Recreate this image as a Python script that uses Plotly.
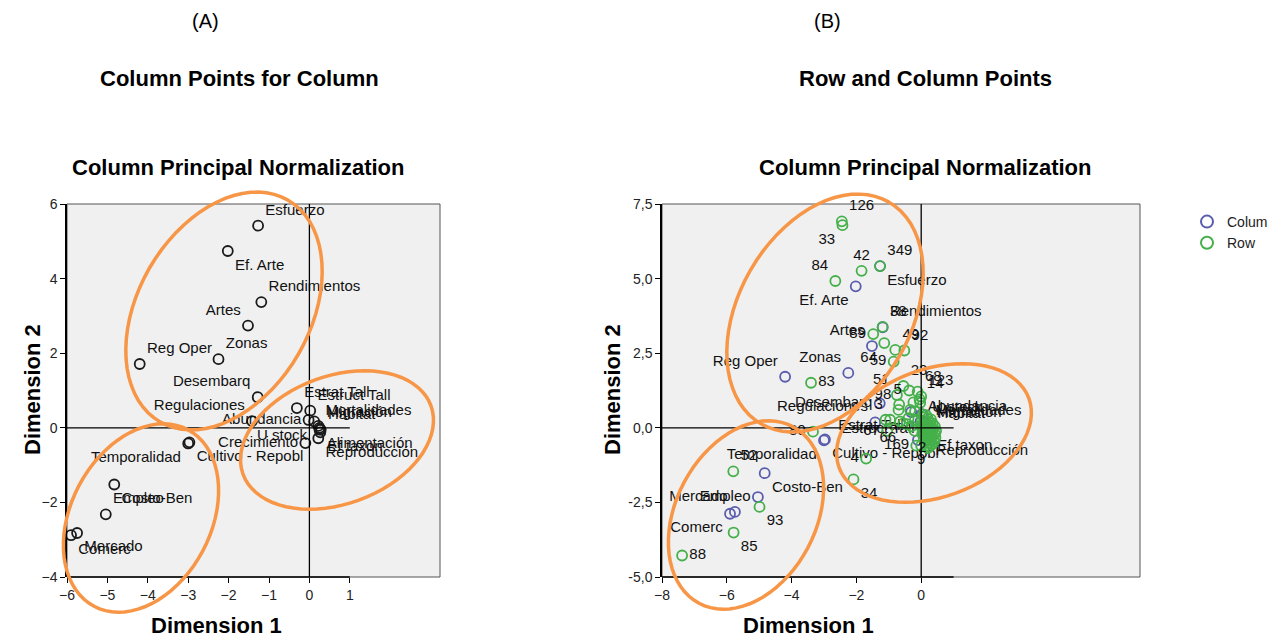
import math
import plotly.graph_objects as go

W, H = 1285, 638
OFF = 8  # the page body margin shifts the figure by this many pixels

# ---------------- data ----------------
col_names = ["Esfuerzo", "Ef. Arte", "Rendimientos", "Artes", "Zonas", "Reg Oper",
             "Desembarq", "Regulaciones", "Estrat Tall", "Estruct Tall", "Abundancia",
             "U stock", "Mortalidades", "Migración", "Habitat", "Alimentación",
             "Ef taxon", "Reproducción", "Crecimiento", "Temporalidad",
             "Cultivo - Repobl", "Costo-Ben", "Empleo", "Mercado", "Comerc"]
col_x = [-1.27, -2.02, -1.19, -1.52, -2.25, -4.20, -1.28, -1.42, -0.31, 0.02, -0.02,
         0.12, 0.22, 0.25, 0.28, 0.25, 0.27, 0.22, -0.10, -3.00, -2.97, -4.83, -5.04,
         -5.75, -5.90]
col_y = [5.42, 4.74, 3.37, 2.74, 1.84, 1.71, 0.82, 0.18, 0.53, 0.46, 0.21, 0.17, 0.05,
         0.00, -0.05, -0.05, -0.12, -0.28, -0.41, -0.42, -0.39, -1.52, -2.32, -2.82,
         -2.88]
# labels shown in panel B (some are hidden under the cluster there)
col_names_b = [n if n not in ("Alimentación", "Crecimiento") else "" for n in col_names]

row_names = ["126", "33", "42", "349", "84", "38", "89", "64", "49", "92", "59", "83",
             "23", "5", "68", "51", "123", "14", "98", "3", "67", "66", "169", "2", "9",
             "80", "52", "34", "4", "93", "85", "88"]
row_x = [-2.45, -2.43, -1.84, -1.27, -2.65, -1.19, -1.48, -1.14, -0.80, -0.52, -0.85,
         -3.40, -0.55, -0.37, -0.11, -0.75, 0.00, -0.05, -0.70, -0.96, -1.05, -0.55,
         -0.15, 0.03, 0.00, -3.34, -5.80, -2.09, -1.70, -4.99, -5.79, -7.38]
row_y = [6.92, 6.79, 5.26, 5.42, 4.92, 3.38, 3.14, 2.84, 2.61, 2.59, 2.22, 1.51, 1.40,
         1.25, 1.21, 1.10, 1.05, 0.95, 0.60, 0.27, -0.10, 0.15, -0.60, -0.20, -0.60,
         -0.13, -1.46, -1.73, -1.03, -2.65, -3.51, -4.28]
# unlabeled row points (mostly the dense cluster near the origin)
row_x_unl = [-0.24, -0.03, -0.68, -0.34, -0.19, -0.39, -0.19, -0.65, -0.44, -1.10,
             -0.30, -0.20,
             0.05, 0.15, 0.08, 0.20, 0.30, 0.02, 0.12, 0.25, 0.35, 0.05, 0.18, 0.30,
             0.42, 0.02, 0.12, 0.24, 0.36, 0.46, 0.06, 0.18, 0.30, 0.42, 0.10, 0.22,
             0.34, 0.44, 0.08, 0.18, 0.30, 0.40, 0.12, 0.24, 0.34, 0.15, 0.26, 0.20,
             0.10, 0.28, 0.38, 0.22]
row_y_unl = [0.85, 0.84, 0.78, 0.60, 0.55, 0.32, 0.27, 0.21, 0.12, 0.27,
             0.05, -0.10,
             0.45, 0.42, 0.35, 0.32, 0.28, 0.25, 0.22, 0.20, 0.15, 0.12, 0.10, 0.08,
             0.05, 0.00, -0.02, -0.04, -0.06, -0.10, -0.12, -0.14, -0.17, -0.20,
             -0.25, -0.27, -0.30, -0.33, -0.38, -0.40, -0.43, -0.46, -0.50, -0.52,
             -0.55, -0.60, -0.63, -0.68, 0.05, -0.35, -0.40, 0.02]

left_xticks = [-6, -5, -4, -3, -2, -1, 0, 1]
left_yticks = [-4, -2, 0, 2, 4, 6]
right_xticks = [-8, -6, -4, -2, 0]
right_yticks = [-5.0, -2.5, 0.0, 2.5, 5.0, 7.5]
right_yticktext = ["-5,0", "-2,5", "0,0", "2,5", "5,0", "7,5"]

# ---------------- styles / layout ----------------
pos_left = ["top right", "bottom right", "top right", "top left", "top right", "top right",
            "top left", "top left", "top right", "top right", "middle left",
            "bottom left", "top right", "top right", "top right", "bottom right",
            "bottom right", "bottom right", "middle left", "bottom left", "bottom right",
            "bottom right", "top right", "bottom right", "bottom right"]
pos_right = ["bottom right", "bottom left", "top right", "top left", "top left", "top left",
             "middle left", "top left", "bottom left", "bottom left", "top right",
             "top right", "top right", "top right", "top right", "middle right",
             "bottom right", "bottom right", "middle left", "bottom left", "bottom right",
             "bottom right", "middle left", "top left", "bottom left"]
pos_rows = ["top right", "bottom left", "top center", "top right", "top left", "top right",
            "middle left", "bottom left", "top right", "top right", "middle left",
            "middle right", "top right", "middle left", "top right", "top left",
            "top right", "top right", "top left", "top left", "middle left", "bottom left",
            "middle left", "bottom center", "bottom center", "middle left", "top right",
            "bottom right", "middle left", "bottom right", "bottom right", "middle right"]

FONT = "Liberation Sans, Arial, sans-serif"
LBL = dict(family=FONT, size=15, color="#111111")
BLUE = "#5a5cae"
GREEN = "#45b04a"
ORANGE = "#F79646"


def PX(v):
    return (v - OFF) / W


def PY(v):
    return 1 - (v - OFF) / H


# pixel boxes (in the screenshot) of the two plot areas: (left, right, top, bottom)
boxL = (67, 440, 204, 577)
boxR = (662, 1140, 204, 577)
xrL = [-6, -6 + (boxL[1] - boxL[0]) / 40.4]
yrL = [-4, 6]
xrR = [-8, -8 + (boxR[1] - boxR[0]) / 32.4]
yrR = [-5, 7.5]

fig = go.Figure()

fig.add_trace(go.Scatter(
    x=col_x, y=col_y, text=col_names, mode="markers+text", textposition=pos_left,
    marker=dict(symbol="circle-open", size=10, color="#1a1a1a", line=dict(width=1.8)),
    textfont=LBL, cliponaxis=False, showlegend=False, xaxis="x", yaxis="y"))

fig.add_trace(go.Scatter(
    x=col_x, y=col_y, text=col_names_b, mode="markers+text", textposition=pos_right,
    name="Colum",
    marker=dict(symbol="circle-open", size=10, color=BLUE, line=dict(width=1.8)),
    textfont=LBL, cliponaxis=False, xaxis="x2", yaxis="y2"))

fig.add_trace(go.Scatter(
    x=row_x_unl, y=row_y_unl, mode="markers", name="Row", showlegend=False,
    marker=dict(symbol="circle-open", size=10, color=GREEN, line=dict(width=1.8)),
    cliponaxis=False, xaxis="x2", yaxis="y2"))

fig.add_trace(go.Scatter(
    x=row_x, y=row_y, text=row_names, mode="markers+text", textposition=pos_rows,
    name="Row",
    marker=dict(symbol="circle-open", size=10, color=GREEN, line=dict(width=1.8)),
    textfont=LBL, cliponaxis=False, xaxis="x2", yaxis="y2"))


def axis_common():
    return dict(showgrid=False, zeroline=False, ticks="outside", ticklen=5,
                tickcolor="black", tickwidth=1.2, automargin=False,
                tickfont=dict(family=FONT, size=14, color="#222222"))


fig.update_layout(
    width=W, height=H, autosize=False,
    margin=dict(l=0, r=0, t=0, b=0, pad=0, autoexpand=False),
    paper_bgcolor="white", plot_bgcolor="#f0f0f0",
    xaxis=dict(domain=[PX(boxL[0]), PX(boxL[1])], range=xrL, tickmode="array",
               tickvals=left_xticks, showline=False, **axis_common()),
    yaxis=dict(domain=[PY(boxL[3]), PY(boxL[2])], range=yrL, tickmode="array",
               tickvals=left_yticks, showline=True, linecolor="black", linewidth=1.5,
               **axis_common()),
    xaxis2=dict(domain=[PX(boxR[0]), PX(boxR[1])], range=xrR, tickmode="array",
                tickvals=right_xticks, showline=False, anchor="y2", **axis_common()),
    yaxis2=dict(domain=[PY(boxR[3]), PY(boxR[2])], range=yrR, tickmode="array",
                tickvals=right_yticks, ticktext=right_yticktext, showline=True,
                linecolor="black", linewidth=1.5, anchor="x2", **axis_common()),
    legend=dict(x=PX(1187), y=PY(206), xanchor="left", yanchor="top",
                bgcolor="rgba(0,0,0,0)", font=dict(family=FONT, size=14, color="#222"),
                tracegroupgap=0, itemsizing="constant"),
)

shapes = []
for xa, ya, xt in (("x", "y", left_xticks), ("x2", "y2", right_xticks)):
    # plot-area frame
    shapes.append(dict(type="rect", xref=xa + " domain", yref=ya + " domain", x0=0, x1=1,
                       y0=0, y1=1, line=dict(color="#555555", width=1), layer="below"))
    # x axis line over the tick range
    shapes.append(dict(type="line", xref=xa, yref=ya + " domain", x0=min(xt), x1=1,
                       y0=0, y1=0, line=dict(color="black", width=1.5)))
    # reference lines through the origin
    shapes.append(dict(type="line", xref=xa, yref=ya, x0=min(xt), x1=1, y0=0, y1=0,
                       line=dict(color="black", width=1.3)))
    shapes.append(dict(type="line", xref=xa, yref=ya + " domain", x0=0, x1=0, y0=0, y1=1,
                       line=dict(color="black", width=1.3)))


def ellipse_path(cx, cy, a, b, ang):
    th = math.radians(ang)
    pts = []
    for i in range(73):
        t = 2 * math.pi * i / 72
        px = cx + a * math.cos(t) * math.cos(th) - b * math.sin(t) * math.sin(th)
        py = cy - (a * math.cos(t) * math.sin(th) + b * math.sin(t) * math.cos(th))
        pts.append((PX(px), PY(py)))
    return "M " + " L ".join(f"{x:.5f},{y:.5f}" for x, y in pts) + " Z"


ellipses = [(224, 311, 128, 86, 60), (337, 440, 100, 64, 20), (141, 518, 100, 70, 62),
            (825, 313, 128, 86, 60), (934, 433, 101, 64, 20), (746, 515, 100, 70, 62)]
for e in ellipses:
    shapes.append(dict(type="path", xref="paper", yref="paper", path=ellipse_path(*e),
                       line=dict(color=ORANGE, width=3.5), layer="above"))

fig.update_layout(shapes=shapes)

ann = []


def txt(x, y, s, size, bold=False, angle=0, yanchor="middle"):
    ann.append(dict(x=PX(x), y=PY(y), xref="paper", yref="paper",
                    text=("<b>" + s + "</b>") if bold else s,
                    showarrow=False, xanchor="center", yanchor=yanchor, textangle=angle,
                    font=dict(family=FONT, size=size, color="black")))


txt(205, 8, "(A)", 20, yanchor="top")
txt(827, 8, "(B)", 20, yanchor="top")
txt(239, 78, "Column Points for Column", 22, bold=True)
txt(925, 78, "Row and Column Points", 22, bold=True)
txt(238, 167, "Column Principal Normalization", 22, bold=True)
txt(925, 167, "Column Principal Normalization", 22, bold=True)
txt(216, 625, "Dimension 1", 22, bold=True)
txt(808, 625, "Dimension 1", 22, bold=True)
txt(32, 390, "Dimension 2", 22, bold=True, angle=-90)
txt(612, 390, "Dimension 2", 22, bold=True, angle=-90)
fig.update_layout(annotations=ann)

fig.write_html("out.html")
